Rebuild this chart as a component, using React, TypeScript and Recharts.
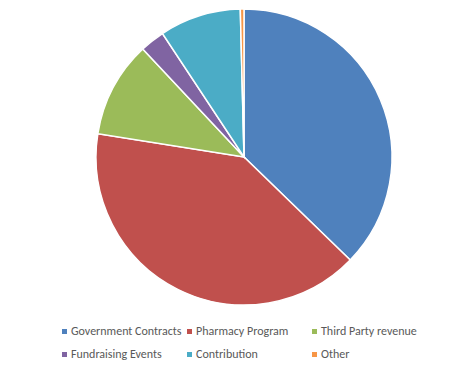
import React from 'react';
import { PieChart, Pie, Cell, Legend } from 'recharts';

const sources = ['Government Contracts', 'Pharmacy Program', 'Third Party revenue', 'Fundraising Events', 'Contribution', 'Other'];
const shares = [37.3, 40.3, 10.5, 2.7, 8.9, 0.4];
const colors = ['#4F81BD', '#C0504D', '#9BBB59', '#8064A2', '#4BACC6', '#F79646'];

const data = sources.map((name, i) => ({ name, value: shares[i] }));

const LegendGrid = () => (
  <div style={{ display: 'grid', gridTemplateColumns: '125px 125px 125px', rowGap: 7, paddingLeft: 62 }}>
    {sources.map((name, i) => (
      <div key={name} style={{ display: 'flex', alignItems: 'center', fontSize: 12, color: '#595959', height: 16 }}>
        <span style={{ width: 5, height: 5, background: colors[i], marginRight: 4, display: 'inline-block' }} />
        <span style={{ whiteSpace: 'nowrap' }}>{name}</span>
      </div>
    ))}
  </div>
);

const App: React.FC = () => {
  return (
    <div style={{ position: 'absolute', left: 0, top: 0, fontFamily: 'Carlito, "Open Sans", sans-serif' }}>
      <PieChart width={471} height={365} margin={{ top: 0, right: 0, bottom: 0, left: 0 }}>
        <Pie
          data={data}
          dataKey="value"
          nameKey="name"
          cx={244}
          cy={157}
          outerRadius={148}
          startAngle={90}
          endAngle={-270}
          stroke="#fff"
          strokeWidth={1.5}
          isAnimationActive={false}
        >
          {data.map((d, i) => (
            <Cell key={d.name} fill={colors[i]} />
          ))}
        </Pie>
        <Legend
          content={<LegendGrid />}
          wrapperStyle={{ top: 323, left: 0, width: 471 }}
        />
      </PieChart>
    </div>
  );
};

export default App;
